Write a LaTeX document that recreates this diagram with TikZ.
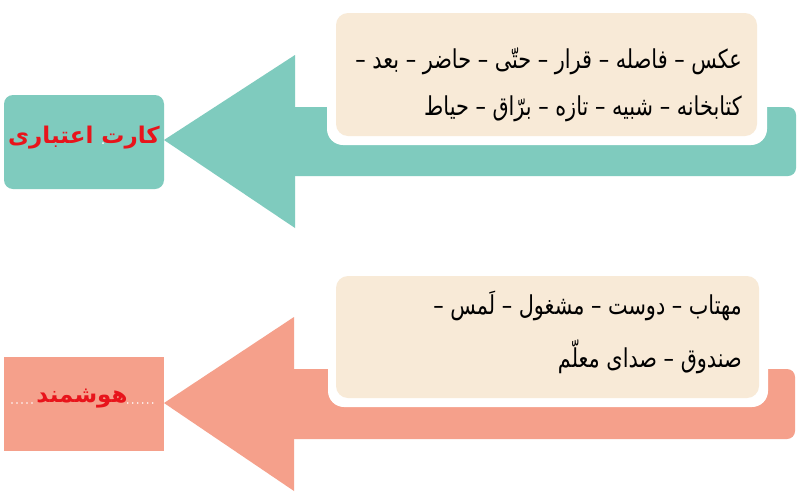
\documentclass[tikz,border=0pt]{standalone}
\usepackage{fontspec}
\TeXXeTstate=1
\newfontfamily\arabicfont[Script=Arabic]{DejaVu Sans}
\newfontfamily\arabicbold[Script=Arabic]{DejaVu Sans Bold}
\definecolor{tealc}{HTML}{7FCBBE}
\definecolor{salmonc}{HTML}{F5A08B}
\definecolor{beigec}{HTML}{F8EAD7}
\definecolor{labelred}{HTML}{E8141B}
\newcommand{\wordrow}[1]{\scalebox{0.8}[1]{\arabicfont\fontsize{26}{30}\selectfont\beginR #1\endR}}
\tikzset{
  wordline/.style={anchor=east, inner sep=0pt, text=black},
  labeltext/.style={inner sep=0pt, font=\arabicbold\fontsize{23}{26}\selectfont, text=labelred},
  whiteframe/.style={fill=white, rounded corners=16pt},
  beigebox/.style={fill=beigec, rounded corners=12pt},
  spacedots/.style={white, line width=1.8pt, dash pattern=on 0pt off 5pt, line cap=round},
}
\begin{document}
\begin{tikzpicture}[x=1pt,y=-1pt]
\useasboundingbox (0,0) rectangle (812,496);
\fill[white] (0,0) rectangle (812,496);
% ---------- top group ----------
\fill[tealc, rounded corners=8pt] (280,107) rectangle (796,176);
\fill[tealc] (164,140) -- (295,55) -- (295,228) -- cycle;
\fill[tealc, rounded corners=9pt] (4,95) rectangle (164,189);
\node[labeltext] (lab1) at (84,138) {\beginR کارت اعتباری\endR};
\coordinate (gapdot) at (103,143);
\fill[white] (gapdot) circle (1pt);
\fill[whiteframe] (327,5) rectangle (767,145);
\fill[beigebox] (336,13) rectangle (757,136);
\node[wordline] (t1) at (742,61) {\wordrow{عکس – فاصله – قرار – حتّی – حاضر – بعد –}};
\node[wordline] (t2) at (742,109) {\wordrow{کتابخانه – شبیه – تازه – برّاق – حیاط}};
% ---------- bottom group ----------
\fill[salmonc, rounded corners=8pt] (280,369) rectangle (795,439);
\fill[salmonc] (164,403) -- (294,317) -- (294,491) -- cycle;
\fill[salmonc] (4,357) rectangle (164,451);
\node[labeltext] (lab2) at (82,399) {\beginR هوشمند\endR};
\coordinate (dl) at (12,403);
\coordinate (dr) at (156,403);
\draw[spacedots] (dl) -- (dl -| lab2.west);
\draw[spacedots] (dr -| lab2.east) -- (dr);
\fill[whiteframe] (328,266) rectangle (768,407);
\fill[beigebox] (336,276) rectangle (759,398);
\node[wordline] (b1) at (742,306) {\wordrow{مهتاب – دوست – مشغول – لَمس –}};
\node[wordline] (b2) at (742,357) {\wordrow{صندوق – صدای معلّم}};
\end{tikzpicture}
\end{document}
